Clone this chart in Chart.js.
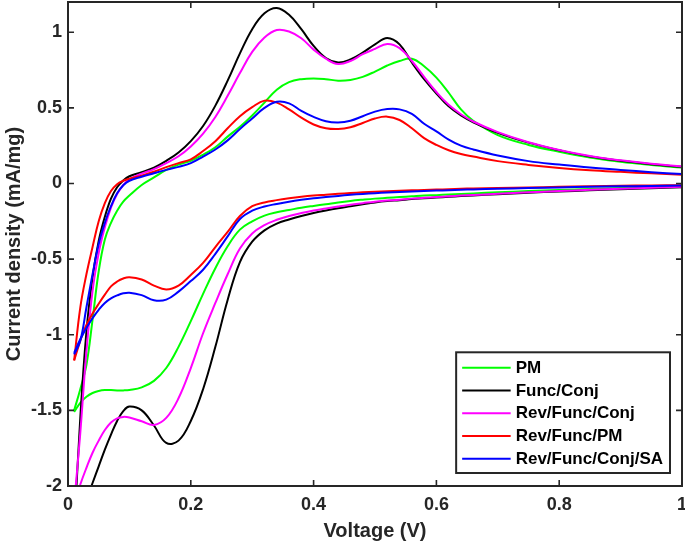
<!DOCTYPE html>
<html>
<head>
<meta charset="utf-8">
<script src="https://cdn.jsdelivr.net/npm/chart.js@4"></script>
<style>
html,body{margin:0;padding:0;background:#fff;}
#wrap{width:685px;height:543px;position:relative;}
</style>
</head>
<body>
<div id="wrap"><canvas id="c" width="685" height="543"></canvas></div>
<script>
// ---------- DATA ----------
const voltage = [0.01,0.02,0.03,0.04,0.05,0.06,0.07,0.08,0.09,0.10,
                 0.12,0.14,0.16,0.18,0.20,0.22,0.24,0.26,0.28,0.30,
                 0.32,0.34,0.36,0.38,0.40,0.42,0.44,0.46,0.48,0.50,
                 0.52,0.54,0.56,0.58,0.60,0.62,0.64,0.66,0.70,0.75,
                 0.80,0.85,0.90,0.95,1.00];

// anodic (upper) branches
const pmAnodic = [-1.50,-1.36,-1.20,-0.90,-0.58,-0.37,-0.26,-0.18,-0.12,-0.08,
                  -0.01,0.04,0.09,0.125,0.15,0.19,0.24,0.31,0.375,0.45,
                  0.535,0.62,0.67,0.69,0.695,0.69,0.68,0.685,0.705,0.74,
                  0.78,0.81,0.825,0.775,0.70,0.60,0.49,0.415,0.32,0.255,
                  0.21,0.172,0.143,0.122,0.105];
const funcConjAnodic = [-2.30,-1.55,-0.98,-0.62,-0.38,-0.22,-0.10,-0.025,0.02,0.048,
                  0.075,0.105,0.15,0.205,0.28,0.38,0.515,0.68,0.86,1.02,
                  1.125,1.16,1.115,1.02,0.91,0.83,0.80,0.82,0.865,0.92,
                  0.962,0.92,0.80,0.69,0.595,0.51,0.45,0.405,0.335,0.27,
                  0.22,0.178,0.15,0.128,0.11];
const revFuncConjAnodic = [-2.12,-1.65,-1.11,-0.71,-0.46,-0.29,-0.16,-0.07,-0.01,0.028,
                  0.065,0.095,0.135,0.18,0.245,0.33,0.44,0.58,0.73,0.87,
                  0.965,1.015,1.005,0.96,0.885,0.825,0.79,0.81,0.855,0.89,
                  0.922,0.895,0.81,0.705,0.605,0.52,0.458,0.41,0.34,0.273,
                  0.222,0.182,0.153,0.13,0.113];
const revFuncPmAnodic = [-1.17,-0.82,-0.60,-0.42,-0.25,-0.13,-0.05,-0.005,0.018,0.032,
                  0.052,0.078,0.108,0.135,0.16,0.215,0.28,0.365,0.445,0.505,
                  0.548,0.535,0.49,0.435,0.39,0.365,0.36,0.372,0.40,0.43,
                  0.442,0.42,0.365,0.30,0.255,0.22,0.195,0.178,0.148,0.123,
                  0.103,0.088,0.077,0.067,0.058];
const revFuncConjSaAnodic = [-1.13,-1.04,-0.82,-0.60,-0.40,-0.26,-0.15,-0.065,-0.012,0.018,
                  0.045,0.068,0.09,0.11,0.135,0.178,0.225,0.285,0.36,0.43,
                  0.50,0.54,0.53,0.48,0.44,0.412,0.404,0.415,0.445,0.475,
                  0.492,0.49,0.46,0.395,0.345,0.29,0.25,0.225,0.185,0.148,
                  0.125,0.105,0.09,0.075,0.062];

// cathodic (lower) branches
const pmCathodic = [-1.51,-1.45,-1.41,-1.385,-1.372,-1.366,-1.366,-1.368,-1.368,-1.365,
                  -1.348,-1.305,-1.22,-1.08,-0.91,-0.73,-0.56,-0.415,-0.305,-0.25,
                  -0.212,-0.19,-0.175,-0.16,-0.148,-0.137,-0.125,-0.115,-0.107,-0.10,
                  -0.095,-0.09,-0.085,-0.08,-0.077,-0.073,-0.069,-0.066,-0.058,-0.05,
                  -0.043,-0.036,-0.03,-0.025,-0.02];
const funcConjCathodic = [-2.32,-2.20,-2.09,-1.98,-1.87,-1.76,-1.66,-1.57,-1.505,-1.475,
                  -1.50,-1.60,-1.715,-1.70,-1.57,-1.36,-1.08,-0.77,-0.52,-0.385,
                  -0.31,-0.265,-0.238,-0.215,-0.195,-0.178,-0.163,-0.15,-0.137,-0.125,
                  -0.116,-0.11,-0.103,-0.098,-0.093,-0.088,-0.083,-0.079,-0.071,-0.061,
                  -0.053,-0.045,-0.038,-0.031,-0.025];
const revFuncConjCathodic = [-2.12,-1.99,-1.88,-1.78,-1.70,-1.63,-1.58,-1.553,-1.543,-1.547,
                  -1.572,-1.596,-1.55,-1.42,-1.22,-0.99,-0.79,-0.60,-0.43,-0.33,
                  -0.275,-0.24,-0.215,-0.195,-0.178,-0.165,-0.152,-0.14,-0.13,-0.12,
                  -0.113,-0.107,-0.10,-0.095,-0.09,-0.085,-0.08,-0.076,-0.068,-0.058,
                  -0.05,-0.042,-0.035,-0.028,-0.022];
const revFuncPmCathodic = [-1.17,-1.04,-0.935,-0.86,-0.795,-0.735,-0.68,-0.648,-0.628,-0.62,
                  -0.635,-0.675,-0.70,-0.675,-0.605,-0.525,-0.42,-0.32,-0.215,-0.15,
                  -0.125,-0.11,-0.098,-0.088,-0.08,-0.074,-0.068,-0.063,-0.058,-0.054,
                  -0.051,-0.048,-0.045,-0.043,-0.04,-0.038,-0.035,-0.033,-0.03,-0.026,
                  -0.022,-0.018,-0.015,-0.013,-0.011];
const revFuncConjSaCathodic = [-1.12,-1.03,-0.955,-0.89,-0.835,-0.79,-0.76,-0.74,-0.726,-0.722,
                  -0.738,-0.772,-0.768,-0.715,-0.645,-0.57,-0.465,-0.35,-0.235,-0.18,
                  -0.152,-0.135,-0.12,-0.108,-0.098,-0.09,-0.082,-0.075,-0.069,-0.064,
                  -0.06,-0.056,-0.053,-0.05,-0.047,-0.044,-0.041,-0.039,-0.035,-0.03,
                  -0.026,-0.022,-0.019,-0.016,-0.014];

const seriesLabels = ['PM','Func/Conj','Rev/Func/Conj','Rev/Func/PM','Rev/Func/Conj/SA'];
const seriesColors = ['#00FF00','#000000','#FF00FF','#FF0000','#0000FF'];
const anodicSeries = [pmAnodic, funcConjAnodic, revFuncConjAnodic, revFuncPmAnodic, revFuncConjSaAnodic];
const cathodicSeries = [pmCathodic, funcConjCathodic, revFuncConjCathodic, revFuncPmCathodic, revFuncConjSaCathodic];

const xTicks = [0, 0.2, 0.4, 0.6, 0.8, 1];
const yTicks = [-2, -1.5, -1, -0.5, 0, 0.5, 1];
const xTitle = 'Voltage (V)';
const yTitle = 'Current density (mA/mg)';

// ---------- CHART ----------
const FONT = '"Liberation Sans", Arial, Helvetica, sans-serif';
const AXIS_COLOR = '#262626';

function toPoints(arr){ return voltage.map((v,k)=>({x:v, y:arr[k]})); }

const datasets = [];
seriesLabels.forEach((lab,i)=>{
  [anodicSeries[i], cathodicSeries[i]].forEach((arr,b)=>{
    datasets.push({
      label: lab,
      legendItem: b === 0,
      data: toPoints(arr),
      showLine: true,
      borderColor: seriesColors[i],
      backgroundColor: seriesColors[i],
      borderWidth: 2,
      pointRadius: 0,
      pointHoverRadius: 0,
      tension: 0.4,
      fill: false,
      order: 4 - i
    });
  });
});

const matlabAxes = {
  id: 'matlabAxes',
  afterDatasetsDraw(chart){
    const {ctx, chartArea:a, scales:{x, y}} = chart;
    ctx.save();
    ctx.strokeStyle = AXIS_COLOR;
    ctx.lineWidth = 1.6;
    const tl = 6;
    ctx.beginPath();
    xTicks.forEach(v=>{
      const px = x.getPixelForValue(v);
      ctx.moveTo(px, a.bottom); ctx.lineTo(px, a.bottom - tl);
      ctx.moveTo(px, a.top); ctx.lineTo(px, a.top + tl);
    });
    yTicks.forEach(v=>{
      const py = y.getPixelForValue(v);
      ctx.moveTo(a.left, py); ctx.lineTo(a.left + tl, py);
      ctx.moveTo(a.right, py); ctx.lineTo(a.right - tl, py);
    });
    ctx.stroke();
    ctx.lineWidth = 2;
    ctx.strokeRect(a.left, a.top, a.right - a.left, a.bottom - a.top);
    ctx.restore();
  }
};

const insideLegend = {
  id: 'insideLegend',
  afterDraw(chart){
    const {ctx, chartArea:a} = chart;
    const items = chart.data.datasets.filter(d=>d.legendItem);
    ctx.save();
    ctx.font = 'bold 17px ' + FONT;
    const maxW = Math.max(...items.map(d=>ctx.measureText(d.label).width));
    const padL = 6, sample = 48.5, gap = 5, padR = 7, rowH = 22.7, padT = 4.2, padB = 3;
    const w = padL + sample + gap + maxW + padR;
    const h = padT + rowH*items.length + padB;
    const right = a.right - 12, bottom = a.bottom - 13;
    const left = right - w, top = bottom - h;
    ctx.fillStyle = '#ffffff';
    ctx.fillRect(left, top, w, h);
    ctx.strokeStyle = AXIS_COLOR;
    ctx.lineWidth = 2;
    ctx.strokeRect(left, top, w, h);
    items.forEach((d,k)=>{
      const cy = top + padT + rowH*(k+0.5);
      ctx.strokeStyle = d.borderColor;
      ctx.lineWidth = 2;
      ctx.beginPath();
      ctx.moveTo(left + padL, cy);
      ctx.lineTo(left + padL + sample, cy);
      ctx.stroke();
      ctx.fillStyle = '#000000';
      ctx.textBaseline = 'middle';
      ctx.textAlign = 'left';
      ctx.fillText(d.label, left + padL + sample + gap, cy + 0.5);
    });
    ctx.restore();
  }
};

new Chart(document.getElementById('c'), {
  type: 'scatter',
  data: { datasets },
  options: {
    responsive: false,
    animation: false,
    events: [],
    layout: { padding: { left: 0, right: 3, top: 2, bottom: 0 } },
    plugins: { legend: { display: false }, tooltip: { enabled: false } },
    scales: {
      x: {
        type: 'linear', min: 0, max: 1,
        afterBuildTicks: s => { s.ticks = xTicks.map(v=>({value:v})); },
        afterFit: s => { s.height = 57; s.paddingLeft = 0; s.paddingRight = 0; },
        grid: { display: false, drawTicks: false },
        border: { display: false },
        ticks: {
          autoSkip: false, maxRotation: 0, padding: 8, color: AXIS_COLOR,
          font: { family: FONT, size: 18, weight: 'bold' },
          callback: v => String(v)
        },
        title: {
          display: true, text: xTitle, color: AXIS_COLOR,
          font: { family: FONT, size: 20, weight: 'bold' },
          padding: { top: 0, bottom: 0 }
        }
      },
      y: {
        type: 'linear', min: -2, max: 1.2,
        afterBuildTicks: s => { s.ticks = yTicks.map(v=>({value:v})); },
        afterFit: s => { s.width = 68; s.paddingTop = 0; s.paddingBottom = 0; },
        grid: { display: false, drawTicks: false },
        border: { display: false },
        ticks: {
          autoSkip: false, padding: 6, color: AXIS_COLOR,
          font: { family: FONT, size: 18, weight: 'bold' },
          callback: v => String(v)
        },
        title: {
          display: true, text: yTitle, color: AXIS_COLOR,
          font: { family: FONT, size: 20, weight: 'bold' },
          padding: { top: 2, bottom: 0 }
        }
      }
    }
  },
  plugins: [matlabAxes, insideLegend]
});
</script>
</body>
</html>
